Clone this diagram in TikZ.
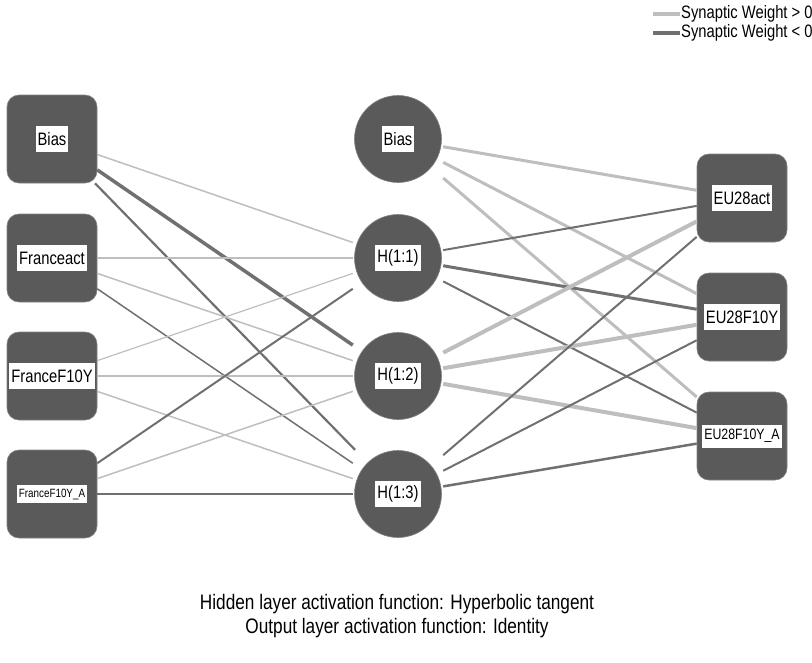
\documentclass[tikz,border=0pt]{standalone}
\usepackage{fontspec}
\usepackage{xcolor}
\newfontfamily\spssfont[FakeStretch=0.82]{Liberation Sans}
\definecolor{nodegray}{RGB}{90,90,90}
\definecolor{nodeedge}{RGB}{130,130,130}
\definecolor{poscol}{RGB}{190,190,190}
\definecolor{negcol}{RGB}{112,112,112}
\tikzset{
	unitbox/.style={
			rectangle, rounded corners=12pt, fill=nodegray, draw=nodeedge, line width=0.6pt,
			minimum width=90pt, minimum height=88pt, inner sep=0pt
		},
	hiddenunit/.style={
			rectangle, minimum width=90pt, minimum height=88pt, inner sep=0pt,
			path picture={\fill[nodegray, draw=nodeedge, line width=0.6pt]
					(path picture bounding box.center) circle (43.5pt);}
		},
	namebox/.style={
			fill=white, text=black, inner xsep=2pt, inner ysep=0pt, minimum height=26pt,
			font=\spssfont\fontsize{18}{18}\selectfont
		},
	smallname/.style={namebox, minimum height=18pt, font=\spssfont\fontsize{12}{12}\selectfont},
	midname/.style={namebox, minimum height=23pt, font=\spssfont\fontsize{15}{15}\selectfont},
	plusw/.style={draw=poscol, line width=#1},
	minusw/.style={draw=negcol, line width=#1}
}

\begin{document}
\begin{tikzpicture}[x=1pt, y=-1pt]
	\useasboundingbox (0,0) rectangle (812,662);

	% Input layer
	\node[unitbox, label={[namebox]center:Bias}] (inbias) at (52,139) {};
	\node[unitbox, label={[namebox]center:Franceact}] (inact) at (52,258) {};
	\node[unitbox, label={[namebox]center:FranceF10Y}] (inften) at (52,376) {};
	\node[unitbox, label={[smallname]center:{FranceF10Y\_A}}] (inftena) at (52,494) {};

	% Hidden layer
	\node[hiddenunit, label={[namebox]center:Bias}] (hbias) at (398,139) {};
	\node[hiddenunit, label={[namebox]center:{H(1:1)}}] (hone) at (398,258) {};
	\node[hiddenunit, label={[namebox]center:{H(1:2)}}] (htwo) at (398,376) {};
	\node[hiddenunit, label={[namebox]center:{H(1:3)}}] (hthree) at (398,494) {};

	% Output layer
	\node[unitbox, label={[namebox]center:EU28act}] (outact) at (742,198) {};
	\node[unitbox, label={[namebox]center:EU28F10Y}] (outften) at (742,317) {};
	\node[unitbox, label={[midname]center:{EU28F10Y\_A}}] (outftena) at (742,436) {};

	% Input to hidden weights
	\draw[plusw=1.5pt] (inbias) -- (hone);
	\draw[minusw=3.5pt] (inbias) -- (htwo);
	\draw[minusw=2.2pt] (inbias) -- (hthree);
	\draw[plusw=1.2pt] (inact) -- (hone);
	\draw[plusw=1.5pt] (inact) -- (htwo);
	\draw[minusw=1.5pt] (inact) -- (hthree);
	\draw[plusw=1.2pt] (inften) -- (hone);
	\draw[plusw=2pt] (inften) -- (htwo);
	\draw[plusw=1.5pt] (inften) -- (hthree);
	\draw[minusw=2pt] (inftena) -- (hone);
	\draw[plusw=1.5pt] (inftena) -- (htwo);
	\draw[minusw=2pt] (inftena) -- (hthree);

	% Hidden to output weights
	\draw[plusw=3pt] (hbias) -- (outact);
	\draw[plusw=3pt] (hbias) -- (outften);
	\draw[plusw=3pt] (hbias) -- (outftena);
	\draw[minusw=2pt] (hone) -- (outact);
	\draw[minusw=3pt] (hone) -- (outften);
	\draw[minusw=2pt] (hone) -- (outftena);
	\draw[plusw=4pt] (htwo) -- (outact);
	\draw[plusw=4pt] (htwo) -- (outften);
	\draw[plusw=4pt] (htwo) -- (outftena);
	\draw[minusw=2pt] (hthree) -- (outact);
	\draw[minusw=2pt] (hthree) -- (outften);
	\draw[minusw=2.5pt] (hthree) -- (outftena);

	% Legend
	\coordinate (keyplus) at (653,14);
	\coordinate (keyminus) at (653,33);
	\node[anchor=west, inner sep=1pt, font=\spssfont\fontsize{18}{18}\selectfont] (legplus) at (680,14) {Synaptic Weight > 0};
	\node[anchor=west, inner sep=1pt, font=\spssfont\fontsize{18}{18}\selectfont] (legminus) at (680,33) {Synaptic Weight < 0};
	\draw[plusw=4pt] (keyplus) -- (legplus.west);
	\draw[minusw=4pt] (keyminus) -- (legminus.west);

	% Activation functions
	\node[font=\spssfont\fontsize{21}{21}\selectfont] (hidfn) at (397,604) {Hidden layer activation function: Hyperbolic tangent};
	\node[font=\spssfont\fontsize{21}{21}\selectfont] (outfn) at (397,628) {Output layer activation function: Identity};
\end{tikzpicture}
\end{document}
